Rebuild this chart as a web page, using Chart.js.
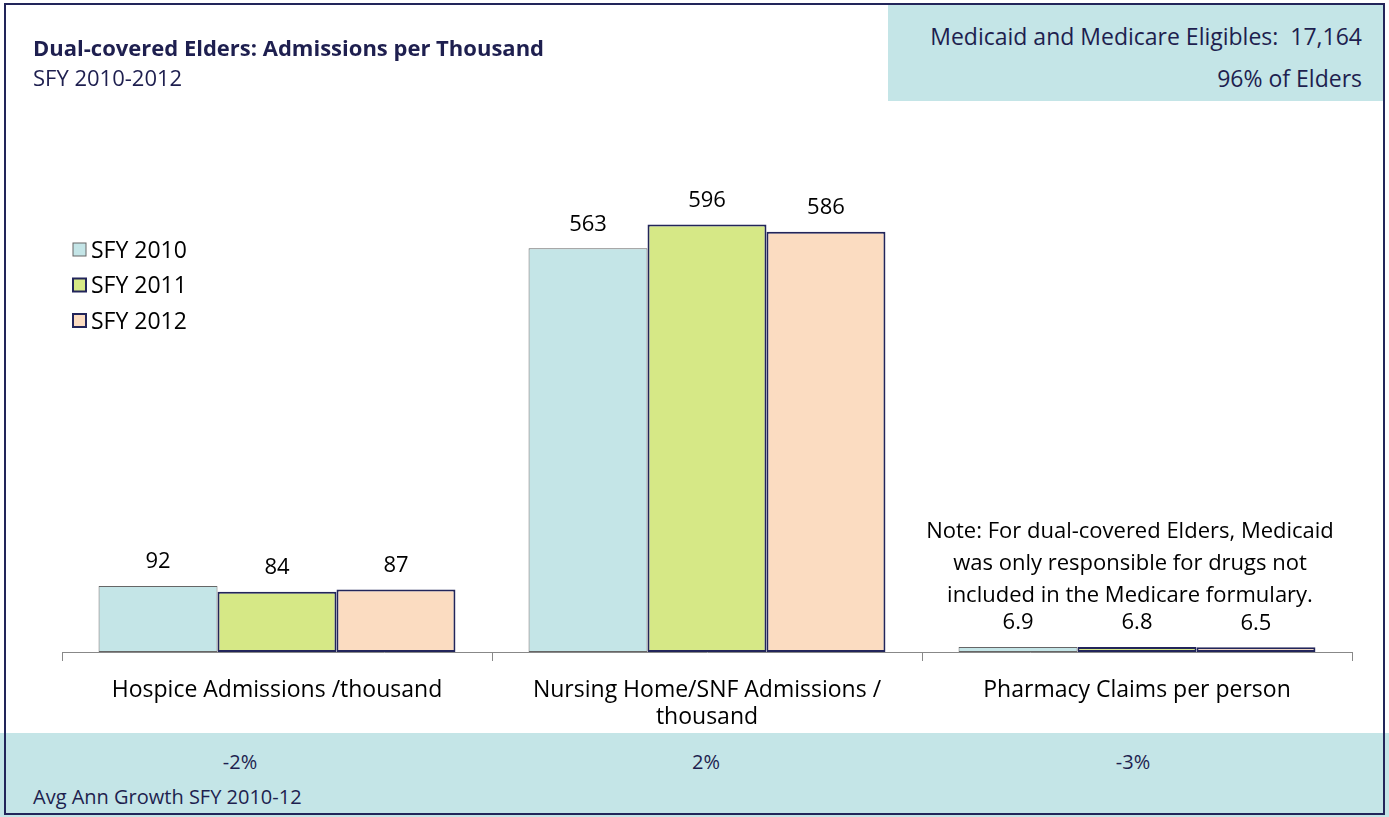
<!DOCTYPE html>
<html>
<head>
<meta charset="utf-8">
<script src="https://cdn.jsdelivr.net/npm/chart.js@4"></script>
<style>
  html,body{margin:0;padding:0;background:#fff;}
  #wrap{position:relative;width:1389px;height:817px;overflow:hidden;font-family:"Open Sans",Lato,sans-serif;}
  #c{position:absolute;left:0;top:0;}
  .frame{position:absolute;left:4px;top:3px;width:1381px;height:812px;border:2px solid #22255a;box-sizing:border-box;pointer-events:none;}
  .title{position:absolute;left:33px;top:32px;font-size:22px;line-height:30px;font-weight:bold;color:#1e1f4f;white-space:nowrap;}
  .sub{position:absolute;left:33px;top:62px;font-size:22px;line-height:30px;color:#1e1f4f;white-space:nowrap;}
  .info{position:absolute;left:888px;top:5px;width:496px;height:96px;background:#c4e5e7;color:#1e1f4f;font-size:23px;line-height:32px;}
  .info div{position:absolute;right:22px;white-space:nowrap;}
  .band{position:absolute;left:0;top:733px;width:1389px;height:84px;background:#c4e5e7;color:#1e1f4f;font-size:20px;line-height:28px;}
  .band span{position:absolute;transform:translateX(-50%);top:15px;white-space:nowrap;}
  .band .foot{position:absolute;left:33px;top:50px;white-space:nowrap;}
  .note{position:absolute;left:880px;top:513px;width:500px;text-align:center;font-size:22px;line-height:32px;color:#000;}
</style>
</head>
<body>
<div id="wrap">
  <canvas id="c" width="1389" height="817"></canvas>
  <div class="title">Dual-covered Elders: Admissions per Thousand</div>
  <div class="sub">SFY 2010-2012</div>
  <div class="info"><div style="top:15px">Medicaid and Medicare Eligibles:&nbsp; 17,164</div><div style="top:57px">96% of Elders</div></div>
  <div class="note">Note: For dual-covered Elders, Medicaid<br>was only responsible for drugs not<br>included in the Medicare formulary.</div>
  <div class="band">
    <span style="left:240px">-2%</span>
    <span style="left:706px">2%</span>
    <span style="left:1133px">-3%</span>
    <div class="foot">Avg Ann Growth SFY 2010-12</div>
  </div>
  <div class="frame"></div>
</div>
<script>
const categories = [
  "Hospice Admissions /thousand",
  ["Nursing Home/SNF Admissions /", "thousand"],
  "Pharmacy Claims per person"
];
const seriesNames = ["SFY 2010", "SFY 2011", "SFY 2012"];
const sfy2010 = [92, 563, 6.9];
const sfy2011 = [84, 596, 6.8];
const sfy2012 = [87, 586, 6.5];
const growth = ["-2%", "2%", "-3%"];

const FONT = '"Open Sans", Lato, sans-serif';
const fills = ["#c4e5e7", "#d6e886", "#fbdcc1"];
const borders = ["#666666", "#22255a", "#22255a"];
const borderW = [1, 2, 2];

const valueLabels = {
  id: 'valueLabels',
  afterDatasetsDraw(chart) {
    const ctx = chart.ctx;
    ctx.save();
    ctx.font = '22px ' + FONT;
    ctx.fillStyle = '#000';
    ctx.textAlign = 'center';
    ctx.textBaseline = 'middle';
    chart.data.datasets.forEach((ds, i) => {
      chart.getDatasetMeta(i).data.forEach((bar, j) => {
        ctx.fillText(String(ds.data[j]), bar.x, bar.y - 24);
      });
    });
    ctx.restore();
  }
};

const sideLegend = {
  id: 'sideLegend',
  afterDraw(chart) {
    const ctx = chart.ctx;
    ctx.save();
    ctx.font = '23px ' + FONT;
    ctx.textBaseline = 'middle';
    chart.data.datasets.forEach((ds, i) => {
      const cy = 250 + i * 35.5;
      ctx.fillStyle = ds.backgroundColor;
      ctx.fillRect(73, cy - 7, 13, 13);
      ctx.lineWidth = ds.borderWidth;
      ctx.strokeStyle = ds.borderColor;
      ctx.strokeRect(73, cy - 7, 13, 13);
      ctx.fillStyle = '#000';
      ctx.fillText(ds.label, 91, cy + 1);
    });
    ctx.restore();
  }
};

const datasets = [sfy2010, sfy2011, sfy2012].map((d, i) => ({
  label: seriesNames[i],
  data: d,
  backgroundColor: fills[i],
  borderColor: borders[i],
  borderWidth: borderW[i],
  borderSkipped: false,
  categoryPercentage: 0.83,
  barPercentage: 1.0
}));

new Chart(document.getElementById('c'), {
  type: 'bar',
  data: { labels: categories, datasets },
  options: {
    responsive: false,
    animation: false,
    layout: { padding: { left: 62, right: 37, top: 150, bottom: 0 } },
    plugins: { legend: { display: false }, tooltip: { enabled: false }, title: { display: false } },
    scales: {
      x: {
        grid: { offset: true, drawOnChartArea: false, drawTicks: true, tickLength: 9, color: '#888', lineWidth: 1 },
        border: { display: true, color: '#888', width: 1 },
        ticks: { color: '#000', font: { size: 23, family: FONT, lineHeight: 1.17 }, padding: 16, maxRotation: 0 },
        afterFit(scale) { scale.height = 165; }
      },
      y: { display: false, min: 0, max: 700 }
    }
  },
  plugins: [valueLabels, sideLegend]
});
</script>
</body>
</html>
